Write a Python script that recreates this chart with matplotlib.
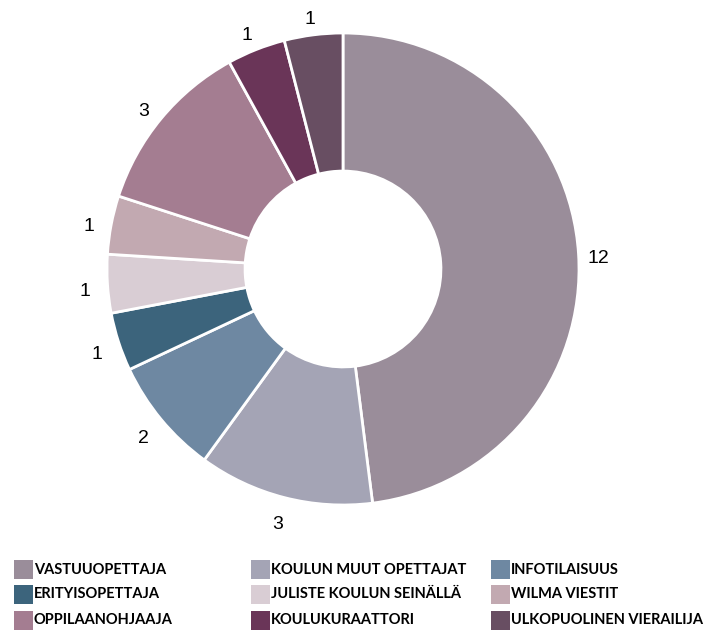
import matplotlib
matplotlib.use("Agg")
import matplotlib.pyplot as plt
from matplotlib.patches import Rectangle
from matplotlib.transforms import offset_copy

categories = ["VASTUUOPETTAJA", "KOULUN MUUT OPETTAJAT", "INFOTILAISUUS",
              "ERITYISOPETTAJA", "JULISTE KOULUN SEINÄLLÄ", "WILMA VIESTIT",
              "OPPILAANOHJAAJA", "KOULUKURAATTORI", "ULKOPUOLINEN VIERAILIJA"]
values = [12, 3, 2, 1, 1, 1, 3, 1, 1]
colors = ["#9A8D9A", "#A4A4B5", "#6E88A2", "#3C647C", "#D9CDD4",
          "#C2A9B1", "#A47D91", "#6A3558", "#684E62"]

W, H = 707, 630
fig = plt.figure(figsize=(W/100, H/100), dpi=100)
cx, cy, R = 343, 269, 236
ax = fig.add_axes([(cx-R)/W, 1-(cy+R)/H, 2*R/W, 2*R/H])
wedges, texts = ax.pie(values, colors=colors, startangle=90, counterclock=False,
                       labels=[str(v) for v in values], labeldistance=1.09,
                       radius=1.0,
                       wedgeprops=dict(width=0.585, edgecolor="white", linewidth=2),
                       textprops=dict(fontsize=14, family="Liberation Sans", color="black"))
for t in texts:
    t.set_ha("center"); t.set_va("center")
    t.set_transform(offset_copy(ax.transData, fig=fig, x=-1, y=-6, units="dots"))
ax.set_xlim(-1, 1); ax.set_ylim(-1, 1)
ax.set_aspect("equal")
ax.axis("off")

col_x = [14, 251, 491]
row_y = [569.5, 594.5, 620.5]
sq = 19
for i, (c, col) in enumerate(zip(categories, colors)):
    r, k = divmod(i, 3)
    x, y = col_x[k], row_y[r]
    fig.patches.append(Rectangle((x/W, 1-(y+sq/2)/H), sq/W, sq/H, transform=fig.transFigure,
                                 facecolor=col, edgecolor="none"))
    fig.text((x+sq+1)/W, 1-y/H, c, fontsize=10.5, family="Lato", fontweight="bold",
             va="center", ha="left", color="black")

fig.savefig("out.png", dpi=100)
